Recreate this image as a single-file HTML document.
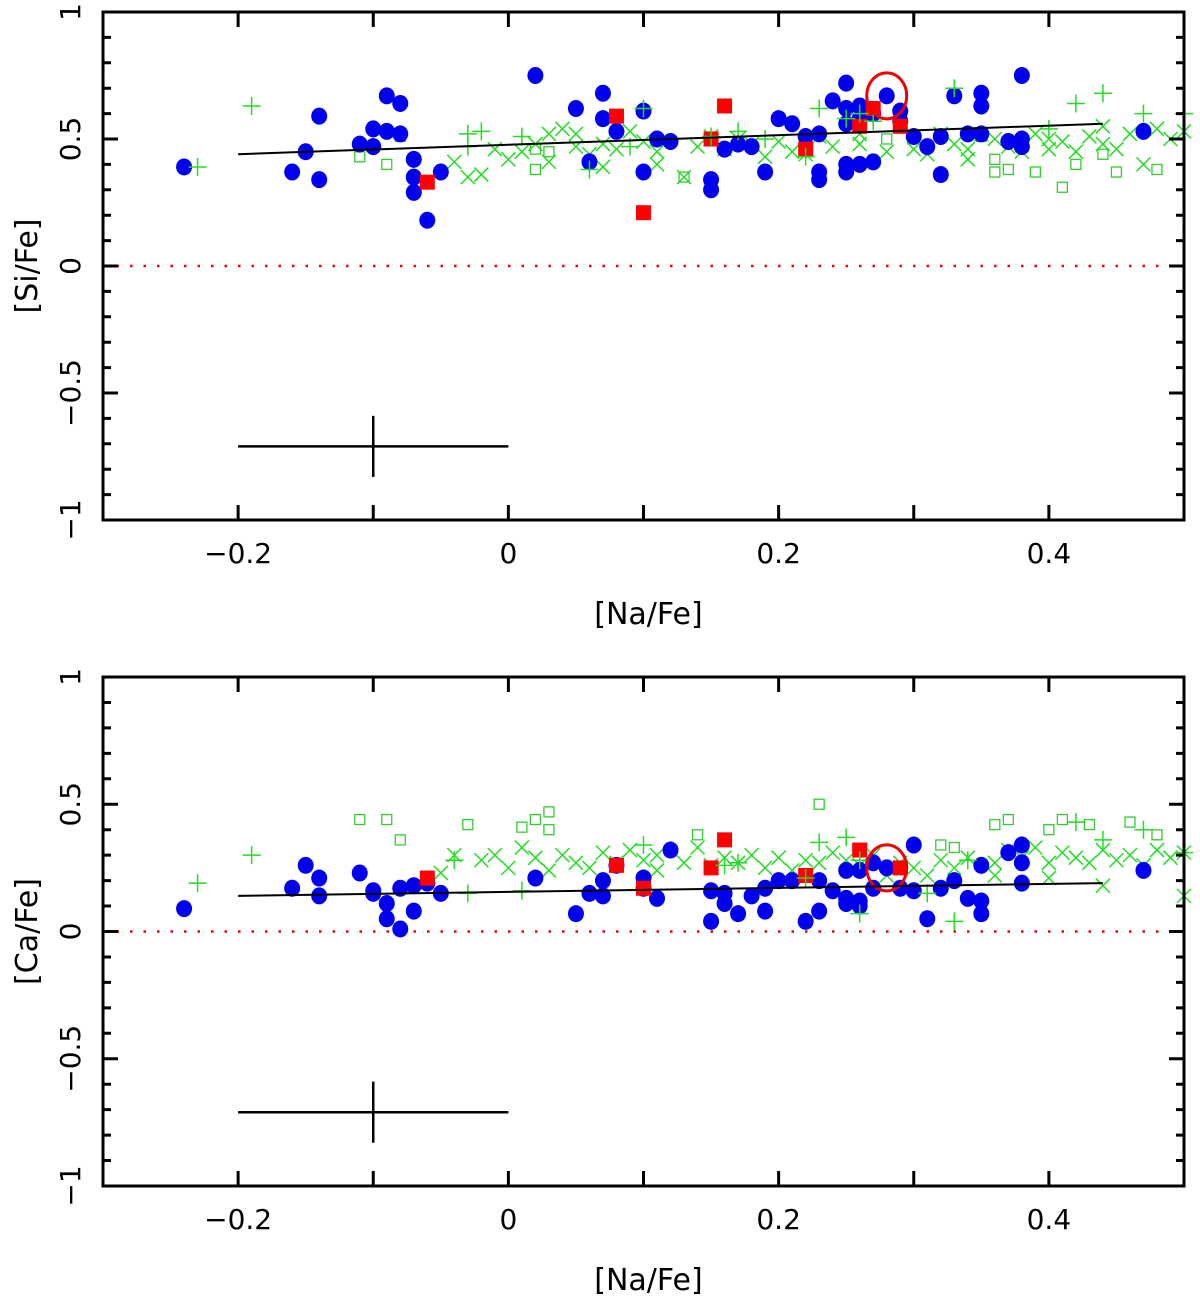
<!DOCTYPE html>
<html><head><meta charset="utf-8"><style>
html,body{margin:0;padding:0;background:#fff;width:1200px;height:1299px;overflow:hidden}
svg text{font-family:"DejaVu Sans","Liberation Sans",sans-serif;fill:#000}
</style></head><body>
<svg id="chart" width="1200" height="1299" viewBox="0 0 1200 1299" xmlns="http://www.w3.org/2000/svg"></svg>
<script>
// ---- data (x = [Na/Fe]) ----
const blueSi = [[-0.24,0.39],[-0.16,0.37],[-0.15,0.45],[-0.14,0.59],[-0.14,0.34],[-0.11,0.48],[-0.10,0.54],[-0.10,0.47],[-0.09,0.67],[-0.09,0.53],[-0.08,0.64],[-0.08,0.52],[-0.07,0.42],[-0.07,0.35],[-0.07,0.29],[-0.06,0.18],[-0.05,0.37],[0.02,0.75],[0.05,0.62],[0.06,0.41],[0.07,0.68],[0.07,0.58],[0.08,0.53],[0.10,0.61],[0.10,0.37],[0.11,0.50],[0.12,0.49],[0.15,0.34],[0.15,0.30],[0.16,0.46],[0.17,0.48],[0.18,0.47],[0.19,0.37],[0.20,0.58],[0.21,0.56],[0.22,0.51],[0.23,0.52],[0.23,0.37],[0.23,0.34],[0.25,0.72],[0.24,0.65],[0.25,0.62],[0.25,0.56],[0.25,0.40],[0.25,0.37],[0.26,0.63],[0.26,0.58],[0.26,0.40],[0.27,0.41],[0.27,0.60],[0.28,0.67],[0.29,0.61],[0.29,0.57],[0.30,0.51],[0.31,0.47],[0.32,0.51],[0.32,0.36],[0.33,0.67],[0.34,0.52],[0.35,0.68],[0.35,0.63],[0.35,0.52],[0.37,0.49],[0.38,0.50],[0.38,0.47],[0.38,0.75],[0.47,0.53]];
const redSi = [[-0.06,0.33],[0.08,0.59],[0.10,0.21],[0.15,0.50],[0.16,0.63],[0.22,0.46],[0.26,0.55],[0.27,0.62],[0.29,0.55]];
const plusSi = [[-0.23,0.39],[-0.19,0.63],[-0.03,0.52],[-0.03,0.47],[-0.02,0.53],[0.01,0.51],[0.15,0.51],[0.17,0.53],[0.22,0.43],[0.25,0.58],[0.26,0.60],[0.33,0.70],[0.40,0.54],[0.42,0.64],[0.44,0.68],[0.47,0.60],[0.50,0.60],[0.06,0.38],[0.10,0.62],[0.23,0.62],[0.27,0.57],[0.19,0.50],[0.09,0.47]];
const crossSi = [[-0.04,0.41],[-0.03,0.35],[-0.02,0.36],[-0.01,0.46],[0.0,0.42],[0.01,0.45],[0.02,0.48],[0.03,0.52],[0.03,0.41],[0.04,0.54],[0.05,0.47],[0.05,0.52],[0.06,0.44],[0.07,0.39],[0.07,0.48],[0.08,0.46],[0.09,0.53],[0.10,0.49],[0.11,0.45],[0.11,0.40],[0.13,0.35],[0.14,0.47],[0.15,0.51],[0.16,0.46],[0.17,0.50],[0.18,0.48],[0.19,0.43],[0.20,0.49],[0.21,0.45],[0.22,0.44],[0.23,0.51],[0.24,0.47],[0.26,0.48],[0.26,0.52],[0.28,0.45],[0.29,0.56],[0.30,0.46],[0.31,0.44],[0.32,0.52],[0.33,0.48],[0.34,0.46],[0.35,0.52],[0.36,0.50],[0.37,0.47],[0.38,0.48],[0.39,0.52],[0.40,0.46],[0.40,0.50],[0.41,0.49],[0.42,0.45],[0.43,0.51],[0.44,0.48],[0.45,0.46],[0.46,0.52],[0.47,0.40],[0.48,0.54],[0.49,0.50],[0.50,0.53],[0.44,0.55],[0.38,0.45],[0.34,0.42]];
const sqSi = [[-0.11,0.43],[-0.09,0.40],[-0.08,0.51],[0.02,0.38],[0.03,0.45],[0.13,0.35],[0.02,0.46],[0.36,0.37],[0.37,0.38],[0.39,0.37],[0.41,0.31],[0.42,0.40],[0.45,0.37],[0.48,0.38],[0.36,0.42],[0.28,0.50],[0.35,0.51],[0.44,0.44]];
const blueCa = [[-0.24,0.09],[-0.16,0.17],[-0.15,0.26],[-0.14,0.21],[-0.14,0.14],[-0.11,0.23],[-0.10,0.16],[-0.10,0.15],[-0.09,0.11],[-0.09,0.05],[-0.08,0.17],[-0.08,0.01],[-0.07,0.18],[-0.07,0.08],[-0.06,0.19],[-0.05,0.15],[0.02,0.21],[0.05,0.07],[0.06,0.15],[0.07,0.20],[0.07,0.14],[0.08,0.26],[0.10,0.21],[0.10,0.17],[0.11,0.13],[0.12,0.32],[0.15,0.16],[0.15,0.04],[0.16,0.15],[0.16,0.11],[0.17,0.07],[0.18,0.14],[0.19,0.08],[0.19,0.17],[0.20,0.20],[0.21,0.20],[0.22,0.04],[0.23,0.20],[0.23,0.08],[0.24,0.16],[0.25,0.24],[0.25,0.13],[0.25,0.11],[0.26,0.24],[0.26,0.10],[0.26,0.12],[0.27,0.17],[0.27,0.27],[0.28,0.25],[0.29,0.17],[0.30,0.34],[0.30,0.16],[0.31,0.05],[0.32,0.17],[0.33,0.20],[0.34,0.13],[0.35,0.26],[0.35,0.12],[0.35,0.07],[0.37,0.31],[0.38,0.34],[0.38,0.27],[0.38,0.19],[0.47,0.24]];
const redCa = [[-0.06,0.21],[0.08,0.26],[0.10,0.17],[0.15,0.25],[0.16,0.36],[0.22,0.22],[0.26,0.32],[0.29,0.25]];
const plusCa = [[-0.23,0.19],[-0.19,0.30],[-0.03,0.15],[-0.04,0.28],[0.01,0.16],[0.10,0.34],[0.16,0.26],[0.23,0.35],[0.25,0.37],[0.26,0.07],[0.33,0.04],[0.31,0.15],[0.42,0.43],[0.44,0.36],[0.47,0.40],[0.50,0.31],[0.26,0.28],[0.17,0.27],[0.34,0.28],[0.22,0.21]];
const crossCa = [[-0.05,0.23],[-0.04,0.30],[-0.02,0.28],[-0.01,0.30],[0.0,0.25],[0.01,0.33],[0.02,0.29],[0.03,0.24],[0.04,0.30],[0.05,0.27],[0.06,0.25],[0.07,0.31],[0.08,0.27],[0.09,0.32],[0.10,0.28],[0.11,0.24],[0.11,0.30],[0.13,0.27],[0.14,0.33],[0.15,0.26],[0.16,0.29],[0.17,0.27],[0.18,0.30],[0.19,0.25],[0.20,0.29],[0.21,0.24],[0.22,0.28],[0.23,0.27],[0.24,0.31],[0.25,0.28],[0.27,0.30],[0.28,0.22],[0.29,0.27],[0.30,0.25],[0.31,0.22],[0.32,0.28],[0.33,0.25],[0.34,0.29],[0.36,0.27],[0.37,0.32],[0.38,0.29],[0.39,0.33],[0.40,0.27],[0.41,0.31],[0.42,0.29],[0.43,0.27],[0.44,0.32],[0.45,0.28],[0.46,0.30],[0.47,0.26],[0.48,0.32],[0.49,0.29],[0.50,0.31],[0.50,0.14],[0.40,0.21],[0.44,0.18],[0.26,0.26],[0.36,0.22]];
const sqCa = [[-0.11,0.44],[-0.09,0.44],[-0.08,0.36],[-0.03,0.42],[0.01,0.41],[0.02,0.44],[0.03,0.47],[0.03,0.40],[0.14,0.38],[0.23,0.50],[0.32,0.34],[0.33,0.33],[0.36,0.42],[0.37,0.44],[0.40,0.40],[0.41,0.44],[0.43,0.42],[0.46,0.43],[0.48,0.38]];
const fitSi = [[-0.2,0.44],[0.44,0.56]];
const fitCa = [[-0.2,0.14],[0.44,0.19]];
const highlight = [0.28, 0.67];
const highlightCa = [0.28, 0.25];
const xTickLabels = ["−0.2","0","0.2","0.4"];
const xTickValues = [-0.2,0,0.2,0.4];
const yTickLabels = ["−1","−0.5","0","0.5","1"];
const yTickValues = [-1,-0.5,0,0.5,1];

const NS="http://www.w3.org/2000/svg";
const svg=document.getElementById('chart');
function mk(tag,attrs,parent){const e=document.createElementNS(NS,tag);for(const k in attrs)e.setAttribute(k,attrs[k]);(parent||svg).appendChild(e);return e;}

function panel(top,bottom,ytitle,blue,red,plus,cross,sq,fit,hl,pname){
  const L=103,R=1184;
  const g=mk('g',{});
  
  
  const X=v=>L+(v+0.3)/0.8*(R-L);
  const Y=v=>bottom-(v+1)/2*(bottom-top);
  const z=mk('line',{x1:L,x2:R,y1:Y(0),y2:Y(0),stroke:'#e00','stroke-width':2.5,'stroke-dasharray':'2.5 11'},g);
  
  sq.forEach(p=>{const e=mk('rect',{x:X(p[0])-5,y:Y(p[1])-5,width:10,height:10,fill:'none',stroke:'#3c3','stroke-width':1.3},g);
    });
  cross.forEach(p=>{const x=X(p[0]),y=Y(p[1]);const e=mk('path',{d:`M${x-7} ${y-7}L${x+7} ${y+7}M${x-7} ${y+7}L${x+7} ${y-7}`,stroke:'#2d2','stroke-width':1.5},g);
    });
  blue.forEach(p=>{const e=mk('ellipse',{cx:X(p[0]),cy:Y(p[1]),rx:8,ry:8.5,fill:'#0000ee'},g);
    });
  red.forEach(p=>{const e=mk('rect',{x:X(p[0])-7.5,y:Y(p[1])-7.5,width:15,height:15,fill:'#f00'},g);
    });
  plus.forEach(p=>{const x=X(p[0]),y=Y(p[1]);const e=mk('path',{d:`M${x-9} ${y}L${x+9} ${y}M${x} ${y-9}L${x} ${y+9}`,stroke:'#2d2','stroke-width':1.5},g);
    });
  const h=mk('ellipse',{cx:X(hl[0]),cy:Y(hl[1]),rx:20,ry:23,fill:'none',stroke:'#e00','stroke-width':3},g);
  
  const f=mk('line',{x1:X(fit[0][0]),y1:Y(fit[0][1]),x2:X(fit[1][0]),y2:Y(fit[1][1]),stroke:'#000','stroke-width':2},g);
  
  const eb=mk('path',{d:`M${X(-0.2)} ${Y(-0.71)}L${X(0)} ${Y(-0.71)}M${X(-0.1)} ${Y(-0.59)}L${X(-0.1)} ${Y(-0.83)}`,stroke:'#000','stroke-width':2.5,fill:'none'},g);
  
  const fr=mk('rect',{x:L,y:top,width:R-L,height:bottom-top,fill:'none',stroke:'#000','stroke-width':3},g);
  
  let d='';
  for(let i=-3;i<=5;i++){const x=X(i/10);d+=`M${x} ${top}L${x} ${top+15}M${x} ${bottom}L${x} ${bottom-15}`;}
  for(let i=-10;i<=10;i++){const y=Y(i/10);const len=(i%5===0)?15:8;d+=`M${L} ${y}L${L+len} ${y}M${R} ${y}L${R-len} ${y}`;}
  const tk=mk('path',{d:d,stroke:'#000','stroke-width':3},g);
  
  xTickValues.forEach((v,i)=>{const t=mk('text',{x:X(v),y:bottom+43,'font-size':28,'text-anchor':'middle'},g);t.textContent=xTickLabels[i];
    });
  yTickValues.forEach((v,i)=>{const y=Y(v);const t=mk('text',{x:0,y:0,'font-size':28,'text-anchor':'middle',transform:`translate(80 ${y}) rotate(-90)`},g);t.textContent=yTickLabels[i];
    });
  const xt=mk('text',{x:(L+R)/2+5,y:bottom+104,'font-size':30,'text-anchor':'middle'},g);xt.textContent='[Na/Fe]';
  
  const yt=mk('text',{x:0,y:0,'font-size':30,'text-anchor':'middle',transform:`translate(37 ${Y(0)}) rotate(-90)`},g);yt.textContent=ytitle;
  
}
panel(12,520,'[Si/Fe]',blueSi,redSi,plusSi,crossSi,sqSi,fitSi,highlight,'si-panel');
panel(677,1186,'[Ca/Fe]',blueCa,redCa,plusCa,crossCa,sqCa,fitCa,highlightCa,'ca-panel');
</script>
</body></html>
